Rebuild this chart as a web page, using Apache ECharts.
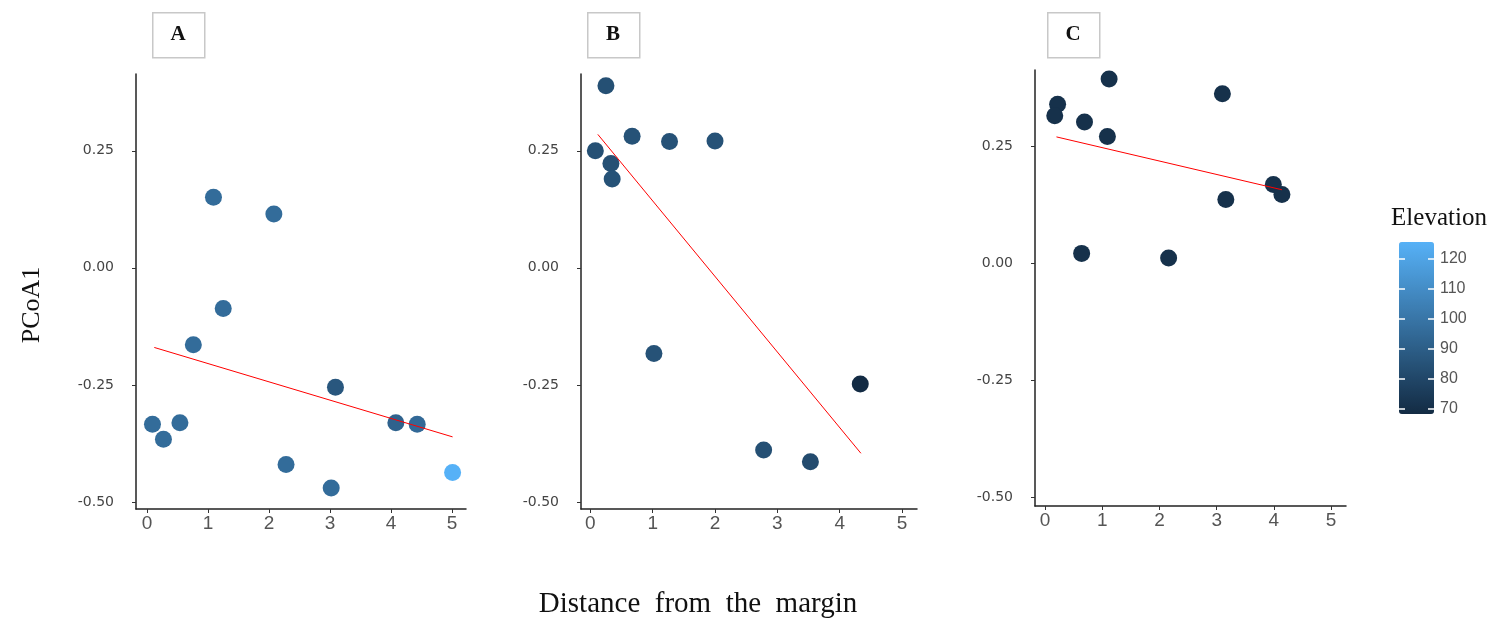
<!DOCTYPE html>
<html>
<head>
<meta charset="utf-8">
<script src="https://cdn.jsdelivr.net/npm/echarts@6/dist/echarts.min.js"></script>
<style>
html,body{margin:0;padding:0;background:#fff;}
#main{width:1510px;height:626px;}
</style>
</head>
<body>
<div id="main"></div>
<script>
// tick labels
var xTicks = [0, 1, 2, 3, 4, 5];
var yTicks = [-0.5, -0.25, 0, 0.25];
var elevTicks = [70, 80, 90, 100, 110, 120];
var panelNames = ['A', 'B', 'C'];

// [distance, PCoA1, elevation]
var pointsA = [
    [0.09, -0.334, 96], [0.27, -0.366, 96], [0.54, -0.331, 96], [0.76, -0.164, 96],
    [1.09, 0.151, 96], [1.25, -0.087, 96], [2.08, 0.115, 96], [2.28, -0.420, 96],
    [3.02, -0.470, 96], [3.09, -0.255, 87], [4.08, -0.331, 92], [4.43, -0.334, 95],
    [5.01, -0.437, 125.7]
];
var pointsB = [
    [0.25, 0.389, 84], [0.08, 0.250, 84], [0.67, 0.281, 85], [1.27, 0.270, 85],
    [2.00, 0.271, 85], [0.33, 0.223, 84], [0.35, 0.190, 85], [1.02, -0.183, 85],
    [4.33, -0.248, 68.5], [2.78, -0.389, 84], [3.53, -0.414, 82]
];
var pointsC = [
    [1.12, 0.394, 71], [3.10, 0.362, 71], [0.22, 0.340, 71], [0.17, 0.315, 71],
    [0.69, 0.302, 71], [1.09, 0.271, 71], [3.99, 0.168, 71], [4.14, 0.147, 71],
    [3.16, 0.136, 71], [0.64, 0.021, 71], [2.16, 0.011, 71]
];

// fitted lines, end points
var fitA = [[0.12, -0.170], [5.01, -0.361]];
var fitB = [[0.12, 0.285], [4.34, -0.396]];
var fitC = [[0.20, 0.270], [4.14, 0.157]];

var chart = echarts.init(document.getElementById('main'));

var grids = [
    {left: 136, top: 74, width: 330, height: 435},
    {left: 581, top: 74, width: 336, height: 435},
    {left: 1035, top: 70, width: 311, height: 436},
    {left: 1399, top: 242, width: 35, height: 172, z: 10}
];
var xRanges = [[-0.18, 5.23], [-0.15, 5.24], [-0.175, 5.26]];
var yRanges = [[-0.515, 0.414], [-0.515, 0.414], [-0.519, 0.413]];

var xAxes = [];
var yAxes = [];
for (var i = 0; i < 3; i++) {
    xAxes.push({
        type: 'value', gridIndex: i, min: xRanges[i][0], max: xRanges[i][1],
        splitLine: {show: false},
        axisLine: {show: true, onZero: false, lineStyle: {color: '#222', width: 1.5}},
        axisTick: {show: true, customValues: xTicks, length: 4, lineStyle: {color: '#333'}},
        axisLabel: {customValues: xTicks, margin: 5, fontFamily: 'Liberation Sans', fontSize: 19, color: '#555'}
    });
    yAxes.push({
        type: 'value', gridIndex: i, min: yRanges[i][0], max: yRanges[i][1],
        splitLine: {show: false},
        axisLine: {show: true, onZero: false, lineStyle: {color: '#222', width: 1.5}},
        axisTick: {show: true, customValues: yTicks, length: 4, lineStyle: {color: '#333'}},
        axisLabel: {
            customValues: yTicks, margin: 22, fontFamily: 'DejaVu Sans', fontSize: 14, color: '#444',
            formatter: function (v) { return v.toFixed(2); }
        }
    });
}
// colour bar: labels on the right, white ticks on both edges
xAxes.push({type: 'value', gridIndex: 3, show: false});
yAxes.push({
    type: 'value', gridIndex: 3, min: 68.3, max: 125.7, position: 'right', z: 20,
    splitLine: {show: false},
    axisLine: {show: false},
    axisTick: {show: false},
    axisLabel: {customValues: elevTicks, margin: 6, fontFamily: 'Liberation Sans', fontSize: 16, color: '#555'}
});
yAxes.push({
    type: 'value', gridIndex: 3, min: 68.3, max: 125.7, position: 'left', z: 20,
    splitLine: {show: false},
    axisLine: {show: false},
    axisTick: {show: true, inside: true, customValues: elevTicks, length: 6, lineStyle: {color: '#fff', width: 1.5}},
    axisLabel: {show: false}
});
yAxes.push({
    type: 'value', gridIndex: 3, min: 68.3, max: 125.7, position: 'left', offset: -35, z: 20,
    splitLine: {show: false},
    axisLine: {show: false},
    axisTick: {show: true, inside: false, customValues: elevTicks, length: 6, lineStyle: {color: '#fff', width: 1.5}},
    axisLabel: {show: false}
});

var pointSets = [pointsA, pointsB, pointsC];
var fits = [fitA, fitB, fitC];
var series = [];
for (var j = 0; j < 3; j++) {
    series.push({
        type: 'scatter', xAxisIndex: j, yAxisIndex: j,
        symbol: 'circle', symbolSize: 17,
        itemStyle: {opacity: 1},
        data: pointSets[j], z: 2
    });
}
for (var k = 0; k < 3; k++) {
    series.push({
        type: 'line', xAxisIndex: k, yAxisIndex: k,
        symbol: 'none', data: fits[k], z: 3,
        lineStyle: {color: '#ff0000', width: 1}
    });
}

var graphic = [];
var boxLeft = [152, 587, 1047];
for (var m = 0; m < 3; m++) {
    graphic.push({
        type: 'rect', left: boxLeft[m], top: 12,
        shape: {width: 52, height: 45},
        style: {fill: '#fff', stroke: '#c8c8c8', lineWidth: 1.5}
    });
    graphic.push({
        type: 'text', x: boxLeft[m] + 26, y: 35,
        style: {text: panelNames[m], fontFamily: 'Liberation Serif', fontWeight: 'bold', fontSize: 21,
            fill: '#111', align: 'center', verticalAlign: 'middle'}
    });
}
graphic.push({
    type: 'text', x: 32, y: 305, rotation: Math.PI / 2,
    style: {text: 'PCoA1', fontFamily: 'Liberation Serif', fontSize: 26, fill: '#111',
        align: 'center', verticalAlign: 'middle'}
});
graphic.push({
    type: 'text', x: 698, y: 604,
    style: {text: 'Distance  from  the  margin', fontFamily: 'Liberation Serif', fontSize: 29, fill: '#111',
        align: 'center', verticalAlign: 'middle'}
});
graphic.push({
    type: 'text', x: 1439, y: 218,
    style: {text: 'Elevation', fontFamily: 'Liberation Serif', fontSize: 25, fill: '#111',
        align: 'center', verticalAlign: 'middle'}
});

var option = {
    backgroundColor: '#fff',
    animation: false,
    grid: grids,
    xAxis: xAxes,
    yAxis: yAxes,
    visualMap: {
        type: 'continuous',
        min: 68.3, max: 125.7,
        dimension: 2,
        seriesIndex: [0, 1, 2],
        calculable: false,
        hoverLink: false,
        left: 1399, top: 242,
        padding: 0,
        z: 1,
        itemWidth: 35, itemHeight: 172,
        text: null,
        inRange: {color: ['#132B43', '#56B1F7']}
    },
    graphic: graphic,
    series: series
};
chart.setOption(option);
</script>
</body>
</html>
